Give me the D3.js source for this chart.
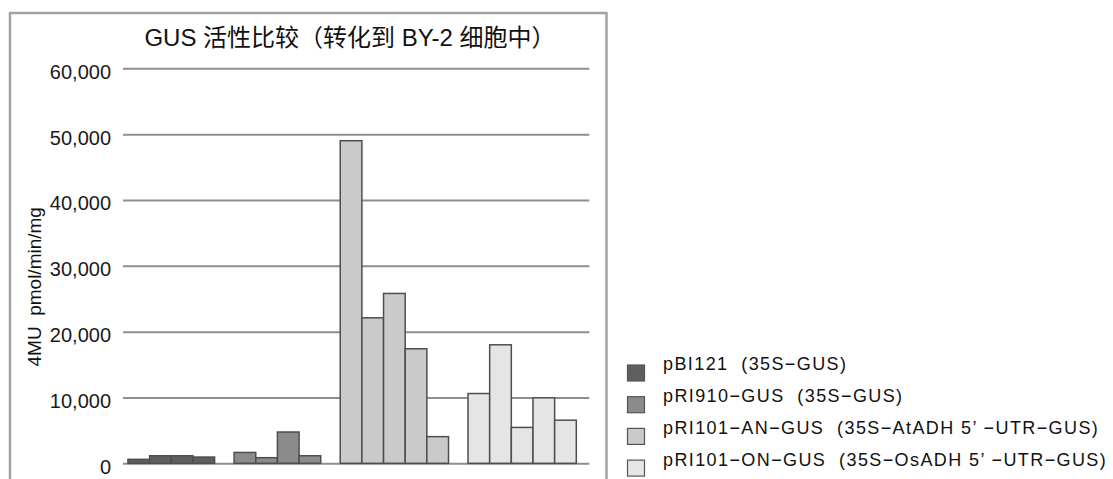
<!DOCTYPE html>
<html>
<head>
<meta charset="utf-8">
<script src="https://cdn.jsdelivr.net/npm/d3@7"></script>
<style>
    body { margin: 0; background: #fff; }
    svg text {
        font-family: "Liberation Sans", Arial, "Noto Sans CJK SC", sans-serif;
        fill: #111;
        white-space: pre;
    }
</style>
</head>
<body>
<div id="chart"></div>
<script>
const chartTitle = "GUS 活性比较（转化到 BY-2 细胞中）";
const yAxisTitle = "4MU  pmol/min/mg";
const seriesNames = [
    "pBI121  (35S−GUS)",
    "pRI910−GUS  (35S−GUS)",
    "pRI101−AN−GUS  (35S−AtADH 5’ −UTR−GUS)",
    "pRI101−ON−GUS  (35S−OsADH 5’ −UTR−GUS)"
];
const pBI121Values   = [600, 1150, 1150, 950];
const pRI910Values   = [1650, 850, 4750, 1150];
const pRI101ANValues = [49000, 22100, 25800, 17400, 4050];
const pRI101ONValues = [10600, 18000, 5450, 9950, 6550];
const yTicks = [0, 10000, 20000, 30000, 40000, 50000, 60000];

const seriesValues = [pBI121Values, pRI910Values, pRI101ANValues, pRI101ONValues];
const seriesColors = ["#5f5f5f", "#8b8b8b", "#c9cac9", "#e5e5e5"];

const width = 1113, height = 479;
const plot = { left: 123, right: 589.3, top: 68.3, bottom: 463.3 };

// bars are laid out in slot units: 1 unit per bar, gaps between series
const leadGap = 0.23, groupGap = 0.9, trailGap = 0.6;
const bars = [];
let cursor = leadGap;
seriesValues.forEach((vals, s) => {
    vals.forEach((v, i) => {
        bars.push({ series: s, index: i, value: v, slot: cursor });
        cursor += 1;
    });
    cursor += groupGap;
});
const totalSlots = cursor - groupGap + trailGap;

const x = d3.scaleLinear().domain([0, totalSlots]).range([plot.left, plot.right]);
const y = d3.scaleLinear().domain([0, 60000]).range([plot.bottom, plot.top]);

const svg = d3.select("#chart").append("svg")
    .attr("width", width)
    .attr("height", height);

// outer frame (bottom edge falls outside the picture)
svg.append("rect")
    .attr("x", 10).attr("y", 13)
    .attr("width", 596.5).attr("height", 500)
    .attr("fill", "none")
    .attr("stroke", "#a2a2a2")
    .attr("stroke-width", 2.5);

svg.append("text")
    .attr("x", 350)
    .attr("y", 46)
    .attr("text-anchor", "middle")
    .style("font-size", "24px")
    .text(chartTitle);

const yAxis = svg.append("g")
    .attr("transform", `translate(${plot.left},0)`)
    .call(d3.axisLeft(y)
        .tickValues(yTicks)
        .tickSize(-(plot.right - plot.left))
        .tickPadding(12)
        .tickFormat(d3.format(",")));

yAxis.select(".domain").remove();
yAxis.selectAll(".tick line")
    .attr("stroke", "#8e8e8e")
    .attr("stroke-width", 2);
yAxis.selectAll(".tick text")
    .attr("dy", "0.5em")
    .style("font-size", "20px")
    .style("fill", "#1a1a1a");

svg.append("text")
    .attr("transform", `translate(41,${(plot.top + plot.bottom) / 2 + 21}) rotate(-90)`)
    .attr("text-anchor", "middle")
    .style("font-size", "19px")
    .text(yAxisTitle);

const barWidth = x(1) - x(0);
svg.append("g")
    .selectAll("rect")
    .data(bars)
    .join("rect")
    .attr("x", d => x(d.slot))
    .attr("y", d => y(d.value))
    .attr("width", barWidth)
    .attr("height", d => y(0) - y(d.value))
    .attr("fill", d => seriesColors[d.series])
    .attr("stroke", "#4e4e4e")
    .attr("stroke-width", 1.5);

// legend
const legend = svg.append("g")
    .selectAll("g")
    .data(seriesNames)
    .join("g");

legend.append("rect")
    .attr("x", 627.5)
    .attr("y", (d, i) => 365 + i * 31.7)
    .attr("width", 17)
    .attr("height", 16)
    .attr("fill", (d, i) => seriesColors[i])
    .attr("stroke", "#555")
    .attr("stroke-width", 1.2);

legend.append("text")
    .attr("x", 663)
    .attr("y", (d, i) => 370 + i * 32)
    .style("font-size", "18px")
    .style("letter-spacing", "1.4px")
    .text(d => d);
</script>
</body>
</html>
